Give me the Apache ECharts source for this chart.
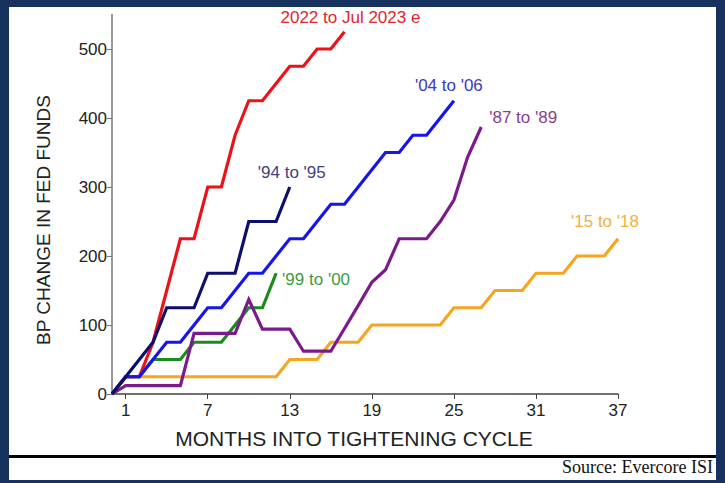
<!DOCTYPE html>
<html>
<head>
<meta charset="utf-8">
<script src="https://cdn.jsdelivr.net/npm/echarts@6/dist/echarts.min.js"></script>
<style>
  html, body { margin: 0; padding: 0; }
  body { width: 725px; height: 483px; background: #17325f; position: relative; overflow: hidden; }
  #sheet { position: absolute; left: 9px; top: 7px; width: 707px; height: 473px; background: #fff; }
  #rule { position: absolute; left: 9px; top: 455px; width: 707px; height: 3px; background: #000; }
  #source { position: absolute; right: 12px; top: 457px; font-family: "Liberation Serif", serif; font-size: 18px; color: #111; }
  #chart { position: absolute; left: 0; top: 0; width: 725px; height: 483px; }
</style>
</head>
<body>
<div id="sheet"></div>
<div id="rule"></div>
<div id="source">Source: Evercore ISI</div>
<div id="chart"></div>
<script>
// months into the tightening cycle (0 = start)
const months = [0, 1, 2, 3, 4, 5, 6, 7, 8, 9, 10, 11, 12, 13, 14, 15, 16, 17, 18, 19,
  20, 21, 22, 23, 24, 25, 26, 27, 28, 29, 30, 31, 32, 33, 34, 35, 36, 37];
const xTicks = [1, 7, 13, 19, 25, 31, 37];
const yTicks = [0, 100, 200, 300, 400, 500];

// cumulative bp change in fed funds, one value per month
const cycle2022 = [0, 25, 25, 75, 150, 225, 225, 300, 300, 375, 425, 425, 450, 475, 475, 500, 500, 525];
const cycle9495 = [0, 25, 50, 75, 125, 125, 125, 175, 175, 175, 250, 250, 250, 300];
const cycle0406 = [0, 25, 25, 50, 75, 75, 100, 125, 125, 150, 175, 175, 200, 225, 225, 250, 275, 275,
  300, 325, 350, 350, 375, 375, 400, 425];
const cycle9900 = [0, 25, 25, 50, 50, 50, 75, 75, 75, 100, 125, 125, 175];
const cycle8789 = [0, 12, 12, 12, 12, 12, 88, 88, 88, 88, 137, 94, 94, 94, 62, 62, 62, 95, 128, 162,
  180, 225, 225, 225, 250, 281, 343, 387];
const cycle1518 = [0, 25, 25, 25, 25, 25, 25, 25, 25, 25, 25, 25, 25, 50, 50, 50, 75, 75, 75, 100,
  100, 100, 100, 100, 100, 125, 125, 125, 150, 150, 150, 175, 175, 175, 200, 200, 200, 225];

function pairs(vals) {
  return vals.map((v, i) => [months[i], v]);
}

function line(name, vals, color, labelColor, offset) {
  return {
    name: name,
    type: "line",
    data: pairs(vals),
    symbol: "none",
    lineStyle: { color: color, width: 3.2, join: "miter" },
    itemStyle: { color: color },
    endLabel: {
      show: true,
      formatter: name,
      color: labelColor,
      fontFamily: "Liberation Sans",
      fontSize: 17,
      distance: 0,
      offset: offset,
    },
  };
}

let myChart = echarts.init(document.getElementById("chart"), null, { renderer: "svg" });
myChart.setOption({
  animation: false,
  grid: { left: 112, right: 107, top: 14.5, bottom: 89 },
  xAxis: {
    type: "value",
    min: 0,
    max: 37,
    axisLine: { lineStyle: { color: "#444", width: 1.5 } },
    axisTick: { show: true, length: 5, customValues: xTicks, lineStyle: { color: "#444" } },
    axisLabel: {
      customValues: xTicks,
      margin: 8,
      color: "#222",
      fontFamily: "Liberation Sans",
      fontSize: 17,
    },
    splitLine: { show: false },
  },
  yAxis: {
    type: "value",
    min: 0,
    max: 550,
    axisLine: { show: true, lineStyle: { color: "#777", width: 1.5 } },
    axisTick: { show: true, length: 5, customValues: yTicks, lineStyle: { color: "#777" } },
    axisLabel: {
      customValues: yTicks,
      margin: 5,
      color: "#222",
      fontFamily: "Liberation Sans",
      fontSize: 17,
    },
    splitLine: { show: false },
  },
  graphic: [
    {
      type: "text",
      x: 43,
      y: 220,
      rotation: Math.PI / 2,
      style: {
        text: "BP CHANGE IN FED FUNDS",
        fill: "#222",
        font: '19px "Liberation Sans"',
        textAlign: "center",
        textVerticalAlign: "middle",
      },
    },
    {
      type: "text",
      x: 354,
      y: 438,
      style: {
        text: "MONTHS INTO TIGHTENING CYCLE",
        fill: "#222",
        font: '21px "Liberation Sans"',
        textAlign: "center",
        textVerticalAlign: "middle",
      },
    },
  ],
  series: [
    line("'15 to '18", cycle1518, "#f5a61e", "#f0b13c", [-47, -17]),
    line("'99 to '00", cycle9900, "#1b8a1f", "#3f9a3f", [6, 6]),
    line("2022 to Jul 2023 e", cycle2022, "#ec1318", "#e0252b", [-64, -14]),
    line("'04 to '06", cycle0406, "#1616ec", "#3a3ac0", [-39, -15]),
    line("'87 to '89", cycle8789, "#7b1b8b", "#8a3c8c", [8, -9]),
    line("'94 to '95", cycle9495, "#0c0f6c", "#3e3f80", [-32, -15]),
  ],
});
</script>
</body>
</html>
